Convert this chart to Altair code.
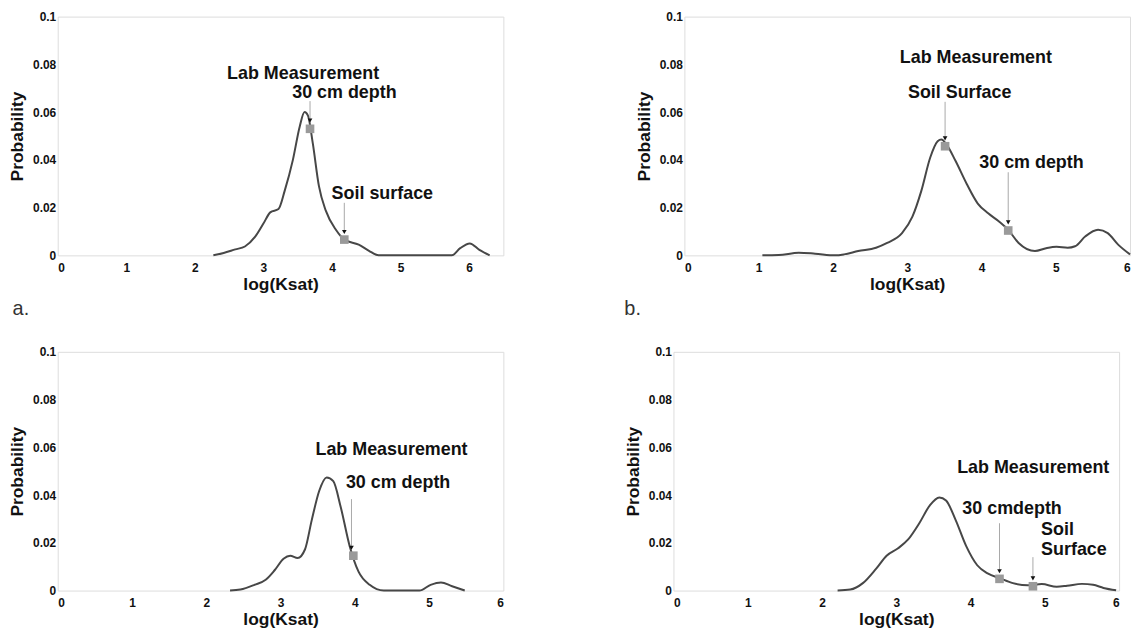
import altair as alt
import pandas as pd

# ---------------- data ----------------
# Panel a
a_x = [2.27, 2.42, 2.59, 2.73, 2.88, 3.00, 3.10, 3.22, 3.31, 3.43, 3.53, 3.60, 3.65, 3.72, 3.81, 3.91,
       4.06, 4.18, 4.39, 4.54, 4.68, 5.00, 5.40, 5.75, 5.87, 6.01, 6.15, 6.30]
a_y = [0, 0.001, 0.0025, 0.0037, 0.0078, 0.0133, 0.018, 0.0194, 0.027, 0.040, 0.054, 0.060, 0.0585, 0.047,
       0.029, 0.0187, 0.0106, 0.0066, 0.0045, 0.0019, 0, 0, 0, 0, 0.003, 0.005, 0.0023, 0]
a_mx = [3.68, 4.18]
a_my = [0.053, 0.0066]
a_arrow_x = [3.68, 4.18]
a_arrow_top = [0.0646, 0.022]
a_arrow_end = [0.0565, 0.0098]
a_txt = ["Lab Measurement", "30 cm depth", "Soil surface"]
a_tx = [2.47, 3.42, 3.995]
a_ty = [0.076, 0.0679, 0.0256]

# Panel b
b_x = [1.05, 1.27, 1.54, 1.76, 2.03, 2.15, 2.34, 2.58, 2.73, 2.93, 3.07, 3.19, 3.31, 3.41, 3.46, 3.53,
       3.65, 3.80, 3.95, 4.09, 4.24, 4.36, 4.50, 4.72, 4.87, 5.01, 5.16, 5.26, 5.40, 5.57, 5.70, 5.84, 6.0]
b_y = [0, 0.0001, 0.0011, 0.0007, 0, 0.0004, 0.0018, 0.0032, 0.0052, 0.0093, 0.0162, 0.027, 0.041, 0.0478,
       0.0485, 0.0464, 0.0396, 0.030, 0.0217, 0.0176, 0.0141, 0.0107, 0.0052, 0.0018, 0.003, 0.0036, 0.0032,
       0.0038, 0.008, 0.0107, 0.0093, 0.0045, 0.0004]
b_mx = [3.51, 4.36]
b_my = [0.0457, 0.0104]
b_arrow_x = [3.51, 4.36]
b_arrow_top = [0.0643, 0.0348]
b_arrow_end = [0.049, 0.0138]
b_txt = ["Lab Measurement", "Soil Surface", "30 cm depth"]
b_tx = [2.90, 3.01, 3.97]
b_ty = [0.0828, 0.0681, 0.0386]

# Panel c
c_x = [2.32, 2.46, 2.65, 2.80, 2.92, 3.04, 3.13, 3.23, 3.33, 3.42, 3.52, 3.62, 3.71, 3.81, 3.93, 4.05,
       4.20, 4.39, 4.87, 5.02, 5.16, 5.31, 5.48]
c_y = [0, 0.0004, 0.0024, 0.0045, 0.0085, 0.0133, 0.0146, 0.0136, 0.0173, 0.0295, 0.0417, 0.0474, 0.0458,
       0.035, 0.0187, 0.0079, 0.0024, 0, 0, 0.0024, 0.0034, 0.0018, 0]
c_mx = [3.98]
c_my = [0.0146]
c_arrow_x = [3.955]
c_arrow_top = [0.0383]
c_arrow_end = [0.0179]
c_txt = ["Lab Measurement", "30 cm depth"]
c_tx = [3.47, 3.88]
c_ty = [0.0589, 0.0449]

# Panel d
d_x = [2.21, 2.38, 2.55, 2.73, 2.87, 3.02, 3.16, 3.31, 3.45, 3.58, 3.67, 3.80, 3.94, 4.09, 4.23, 4.40,
       4.57, 4.77, 4.96, 5.16, 5.30, 5.50, 5.65, 5.79, 5.96]
d_y = [0, 0.0004, 0.0031, 0.0092, 0.0146, 0.0176, 0.0214, 0.0282, 0.0356, 0.039, 0.0377, 0.0295, 0.0187,
       0.0106, 0.0072, 0.0051, 0.0031, 0.0022, 0.0027, 0.0016, 0.002, 0.0028, 0.0024, 0.0011, 0.0001]
d_mx = [4.39, 4.84]
d_my = [0.0049, 0.0018]
d_arrow_x = [4.39, 4.84]
d_arrow_top = [0.0282, 0.014]
d_arrow_end = [0.0081, 0.0051]
d_txt = ["Lab Measurement", "30 cmdepth", "Soil", "Surface"]
d_tx = [3.82, 3.89, 4.95, 4.95]
d_ty = [0.0512, 0.034, 0.0252, 0.0169]

x_ticks = [0, 1, 2, 3, 4, 5, 6]
y_ticks = [0, 0.02, 0.04, 0.06, 0.08, 0.1]

FONT = "Liberation Sans"
W, H = 448, 240


def panel(cx, cy, mx, my, ax, atop, aend, txt, tx, ty, xmax, title=None, title_dx=0):
    curve = pd.DataFrame({"x": cx, "y": cy})
    marks = pd.DataFrame({"x": mx, "y": my})
    arrows = pd.DataFrame({"x": ax, "y": atop, "y2": aend})
    texts = pd.DataFrame({"t": txt, "x": tx, "y": ty})

    xs = alt.Scale(domain=[0, xmax], nice=False, zero=False)
    ys = alt.Scale(domain=[0, 0.1], nice=False)
    xax = alt.Axis(values=x_ticks, format="d", title="log(Ksat)", grid=False, ticks=False, domain=False,
                   labelFont=FONT, labelFontWeight="bold", labelFontSize=12, labelColor="#111",
                   labelPadding=7, titleFont=FONT, titleFontWeight="bold", titleFontSize=17.5,
                   titleColor="#111", titlePadding=2)
    yax = alt.Axis(values=y_ticks, format="~g", title="Probability", grid=False, ticks=False, domain=False,
                   labelFont=FONT, labelFontWeight="bold", labelFontSize=12, labelColor="#111",
                   labelPadding=2, titleFont=FONT, titleFontWeight="bold", titleFontSize=17.5,
                   titleColor="#111", titlePadding=6)

    line = alt.Chart(curve).mark_line(color="#474747", strokeWidth=2, interpolate="monotone").encode(
        x=alt.X("x:Q", scale=xs, axis=xax), y=alt.Y("y:Q", scale=ys, axis=yax))
    rules = alt.Chart(arrows).mark_rule(color="#a8a8a8", strokeWidth=1).encode(
        x="x:Q", y="y:Q", y2="y2:Q")
    heads = alt.Chart(arrows).mark_point(shape="triangle-down", filled=True, color="#111", size=22,
                                         opacity=1).encode(x="x:Q", y="y2:Q")
    squares = alt.Chart(marks).mark_square(color="#9a9a9a", size=75, opacity=1).encode(x="x:Q", y="y:Q")
    labels = alt.Chart(texts).mark_text(align="left", baseline="middle", font=FONT, fontWeight="bold",
                                        fontSize=18, color="#111").encode(x="x:Q", y="y:Q", text="t:N")
    ch = alt.layer(line, rules, heads, squares, labels).properties(width=W, height=H)
    if title:
        ch = ch.properties(title=alt.TitleParams(title, orient="bottom", anchor="start", frame="bounds",
                                                 font=FONT, fontSize=20, fontWeight="normal",
                                                 color="#333", dx=title_dx, offset=6))
    return ch


pa = panel(a_x, a_y, a_mx, a_my, a_arrow_x, a_arrow_top, a_arrow_end, a_txt, a_tx, a_ty, 6.5, "a.", 4)
pb = panel(b_x, b_y, b_mx, b_my, b_arrow_x, b_arrow_top, b_arrow_end, b_txt, b_tx, b_ty, 6, "b.", -11)
pc = panel(c_x, c_y, c_mx, c_my, c_arrow_x, c_arrow_top, c_arrow_end, c_txt, c_tx, c_ty, 6)
pd_ = panel(d_x, d_y, d_mx, d_my, d_arrow_x, d_arrow_top, d_arrow_end, d_txt, d_tx, d_ty, 6)

chart = alt.vconcat(
    alt.hconcat(pa, pb, spacing=120),
    alt.hconcat(pc, pd_, spacing=120),
    spacing=26,
).properties(
    padding={"left": 0, "top": 0, "right": 0, "bottom": 0}
).configure_view(stroke="#cfcfcf", strokeWidth=1).configure(background="white")

chart.save("out.html", embed_options={"renderer": "svg", "actions": False})
